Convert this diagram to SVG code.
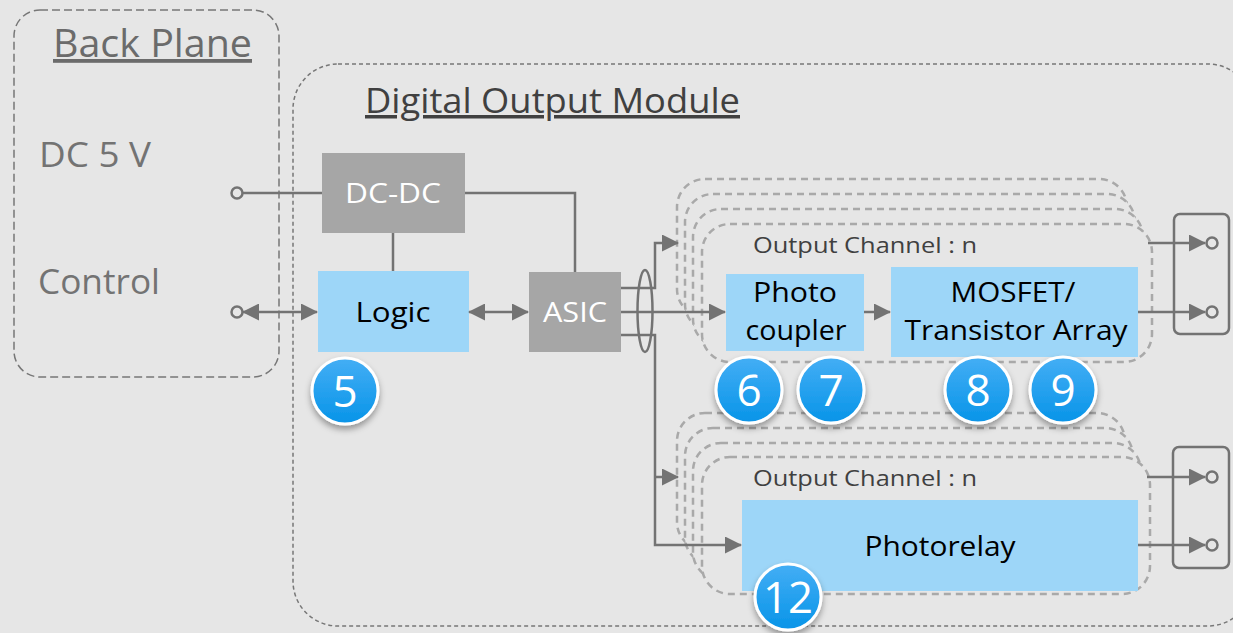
<svg xmlns="http://www.w3.org/2000/svg" width="1233" height="633" viewBox="0 0 1233 633">
<style>
  text { font-family: "Open Sans", "Noto Sans", "Liberation Sans", sans-serif; }
  .conn { fill: none; stroke: #737373; stroke-width: 2.5; }
  .term { fill: #e6e6e6; stroke: #737373; stroke-width: 2.5; }
  .chan { fill: #e6e6e6; stroke: #a9a9a9; stroke-width: 2.5; stroke-dasharray: 7 5; }
  .blue { fill: #9dd6f8; }
  .grey { fill: #a6a6a6; }
  .wl { fill: #ffffff; font-size: 28px; text-anchor: middle; }
  .bl { fill: #000000; font-size: 28px; text-anchor: middle; }
  .ch { fill: #404040; font-size: 21px; }
  .badge circle { fill: url(#bg); stroke: #ffffff; stroke-width: 3; filter: url(#sh); }
  .badge text { fill: #ffffff; font-size: 44px; text-anchor: middle; }
</style>
<defs>
  <marker id="arr" markerUnits="userSpaceOnUse" markerWidth="17" markerHeight="17" viewBox="0 0 17 17" refX="16" refY="8.5" orient="auto-start-reverse">
    <path d="M0,0 L17,8.5 L0,17 z" fill="#737373"/>
  </marker>
  <linearGradient id="bg" x1="0" y1="0" x2="0" y2="1">
    <stop offset="0" stop-color="#44aef5"/>
    <stop offset="1" stop-color="#0794e8"/>
  </linearGradient>
  <filter id="sh" x="-30%" y="-30%" width="160%" height="170%">
    <feDropShadow dx="0" dy="4" stdDeviation="3" flood-color="#000" flood-opacity="0.35"/>
  </filter>
</defs>
<rect width="1233" height="633" fill="#e6e6e6"/>

<g id="backplane">
  <rect x="14" y="10" width="265" height="367" rx="26" fill="none" stroke="#777" stroke-width="1.5" stroke-dasharray="8 4"/>
  <text x="53" y="57" font-size="38" fill="#6b6b6b" text-decoration="underline" textLength="199" lengthAdjust="spacingAndGlyphs">Back Plane</text>
  <text x="39" y="167" font-size="35" fill="#737373" textLength="112" lengthAdjust="spacingAndGlyphs">DC 5 V</text>
  <text x="38" y="294" font-size="35" fill="#737373" textLength="122" lengthAdjust="spacingAndGlyphs">Control</text>
</g>

<g id="module">
  <rect x="293" y="64" width="960" height="562" rx="45" fill="none" stroke="#777" stroke-width="1.5" stroke-dasharray="4 3"/>
  <text x="365" y="113" font-size="35" fill="#404040" text-decoration="underline" textLength="375" lengthAdjust="spacingAndGlyphs">Digital Output Module</text>
</g>

<g id="channel-upper">
  <rect class="chan" x="677" y="179" width="450" height="138" rx="28"/>
  <rect class="chan" x="685" y="194" width="450" height="138" rx="28"/>
  <rect class="chan" x="693" y="209" width="450" height="138" rx="28"/>
  <rect class="chan" x="702" y="224" width="450" height="138" rx="28"/>
  <text class="ch" x="753" y="253" textLength="224" lengthAdjust="spacingAndGlyphs">Output Channel : n</text>
</g>

<g id="channel-lower">
  <rect class="chan" x="677" y="413" width="448" height="137" rx="28"/>
  <rect class="chan" x="685" y="428" width="448" height="137" rx="28"/>
  <rect class="chan" x="693" y="443" width="448" height="137" rx="28"/>
  <rect class="chan" x="702" y="457" width="448" height="137" rx="28"/>
  <text class="ch" x="753" y="486" textLength="224" lengthAdjust="spacingAndGlyphs">Output Channel : n</text>
</g>

<g id="dcdc">
  <rect class="grey" x="322" y="153" width="143" height="80"/>
  <text class="wl" x="393" y="203" textLength="96" lengthAdjust="spacingAndGlyphs">DC-DC</text>
</g>
<g id="logic">
  <rect class="blue" x="318" y="271" width="151" height="81"/>
  <text class="bl" x="393" y="322" font-size="30" textLength="75" lengthAdjust="spacingAndGlyphs">Logic</text>
</g>
<g id="asic">
  <rect class="grey" x="529" y="272" width="92" height="80"/>
  <text class="wl" x="575" y="322" font-size="30" textLength="64" lengthAdjust="spacingAndGlyphs">ASIC</text>
</g>
<g id="photocoupler">
  <rect class="blue" x="726" y="274" width="138" height="77"/>
  <text class="bl" x="795" y="302" textLength="84" lengthAdjust="spacingAndGlyphs">Photo</text>
  <text class="bl" x="796" y="340" textLength="101" lengthAdjust="spacingAndGlyphs">coupler</text>
</g>
<g id="mosfet">
  <rect class="blue" x="891" y="267" width="247" height="90"/>
  <text class="bl" x="1013" y="302" textLength="125" lengthAdjust="spacingAndGlyphs">MOSFET/</text>
  <text class="bl" x="1016" y="340" textLength="223" lengthAdjust="spacingAndGlyphs">Transistor Array</text>
</g>
<g id="photorelay">
  <rect class="blue" x="742" y="500" width="396" height="91"/>
  <text class="bl" x="940" y="556" textLength="151" lengthAdjust="spacingAndGlyphs">Photorelay</text>
</g>

<g id="connectors">
  <path class="conn" d="M242.5,193 H322"/>
  <path class="conn" d="M465,193 H575 V272"/>
  <path class="conn" d="M393,233 V271"/>
  <path class="conn" d="M243,312 H317" marker-start="url(#arr)" marker-end="url(#arr)"/>
  <path class="conn" d="M469,312 H528" marker-start="url(#arr)" marker-end="url(#arr)"/>
  <path class="conn" d="M621,288 H655 V243 H678" marker-end="url(#arr)"/>
  <path class="conn" d="M621,312 H725" marker-end="url(#arr)"/>
  <path class="conn" d="M621,335 H655 V545 H741" marker-end="url(#arr)"/>
  <path class="conn" d="M655,477 H678" marker-end="url(#arr)"/>
  <ellipse class="conn" cx="645" cy="311" rx="7.5" ry="41"/>
  <path class="conn" d="M864,312 H890" marker-end="url(#arr)"/>
  <rect class="conn" x="1174" y="214" width="55" height="120" rx="6"/>
  <rect class="conn" x="1173" y="447" width="56" height="121" rx="6"/>
  <path class="conn" d="M1148,243 H1205" marker-end="url(#arr)"/>
  <path class="conn" d="M1138,312 H1205" marker-end="url(#arr)"/>
  <path class="conn" d="M1147,477 H1205" marker-end="url(#arr)"/>
  <path class="conn" d="M1138,545 H1205" marker-end="url(#arr)"/>
  <circle class="term" cx="237" cy="193" r="5.5"/>
  <circle class="term" cx="237" cy="312" r="5.5"/>
  <circle class="term" cx="1212" cy="243" r="5.5"/>
  <circle class="term" cx="1212" cy="312" r="5.5"/>
  <circle class="term" cx="1212" cy="477" r="5.5"/>
  <circle class="term" cx="1212" cy="545" r="5.5"/>
</g>

<g id="badge-5" class="badge"><circle cx="345" cy="391" r="33"/><text x="345" y="407">5</text></g>
<g id="badge-6" class="badge"><circle cx="749" cy="390" r="33"/><text x="749" y="406">6</text></g>
<g id="badge-7" class="badge"><circle cx="831" cy="390" r="33"/><text x="831" y="406">7</text></g>
<g id="badge-8" class="badge"><circle cx="978" cy="390" r="33"/><text x="978" y="406">8</text></g>
<g id="badge-9" class="badge"><circle cx="1063" cy="390" r="33"/><text x="1063" y="406">9</text></g>
<g id="badge-12" class="badge"><circle cx="788" cy="597" r="33"/><text x="788" y="613" textLength="50" lengthAdjust="spacingAndGlyphs">12</text></g>
</svg>
